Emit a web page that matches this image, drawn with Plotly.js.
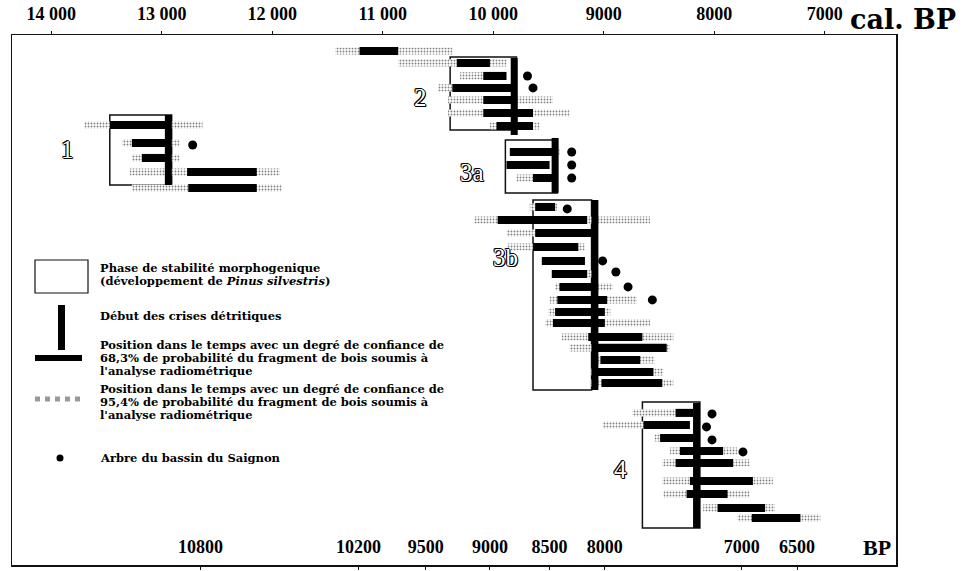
<!DOCTYPE html>
<html><head><meta charset="utf-8">
<script src="https://cdn.plot.ly/plotly-3.0.1.min.js"></script>
<style>body{margin:0;background:#fff}#c{width:970px;height:571px}</style>
</head><body><div id="c"></div>
<script>
// ---- axis labels ----
const calTicks = [14000, 13000, 12000, 11000, 10000, 9000, 8000, 7000];
const calTickText = ['14 000', '13 000', '12 000', '11 000', '10 000', '9000', '8000', '7000'];
const bpTickLabels = ['10800', '10200', '9500', '9000', '8500', '8000', '7000', '6500'];
const bpTickCalPos = [12650, 11220, 10610, 10030, 9490, 8990, 7750, 7250];

// ---- dated wood fragments (cal. BP), row position ----
const rowY = [7.23, 8.62, 9.77, 10.85, 12.08,
  1.54, 2.46, 3.46, 4.38, 5.31, 6.31, 7.31,
  9.31, 10.31, 11.31,
  13.54, 14.54, 15.54, 16.62, 17.69, 18.69, 19.69, 20.69, 21.62, 22.46, 23.54, 24.38, 25.31, 26.23, 27.08,
  29.38, 30.31, 31.31, 32.31, 33.23, 34.62, 35.62, 36.69, 37.46];
// 95.4 % interval
const sigma2From = [13700, 13360, 13270, 13290, 13270,
  11430, 10860, 10300, 10500, 10410, 10410, 10030,
  9850, 9880, 9790,
  9670, 10170, 9880, 9870, 9560, 9470, 9440, 9490, 9500, 9530, 9380, 9310, 9080, 9120, 9120,
  8740, 9010, 8540, 8400, 8470, 8470, 8460, 8100, 7790];
const sigma2To = [12630, 12840, 12840, 11930, 11910,
  10370, 9880, 9880, 9820, 9460, 9310, 9580,
  9400, 9490, 9440,
  9420, 8580, 9060, 9170, 9170, 9100, 8920, 8700, 8940, 8580, 8370, 8400, 8540, 8460, 8370,
  8190, 8220, 8190, 7790, 7680, 7470, 7680, 7450, 7040];
// 68.3 % interval
const sigma1From = [13470, 13270, 13180, 12770, 12760,
  11210, 10330, 10090, 10370, 10090, 10090, 9970,
  9850, 9880, 9640,
  9620, 9960, 9620, 9640, 9560, 9470, 9400, 9420, 9440, 9460, 9140, 9080, 9030, 9060, 9020,
  8350, 8640, 8490, 8310, 8350, 8220, 8250, 7970, 7660];
const sigma1To = [12930, 12950, 12950, 12140, 12140,
  10860, 10030, 9880, 9820, 9820, 9640, 9640,
  9440, 9490, 9440,
  9440, 9150, 9100, 9230, 9170, 9150, 9100, 8970, 8990, 8990, 8650, 8430, 8670, 8550, 8470,
  8190, 8220, 8190, 7920, 7830, 7650, 7880, 7540, 7220];

// ---- trees of the Saignon basin ----
const treeAge = [12720, 9690, 9640, 9290, 9290, 9290, 9330, 9010, 8890, 8780, 8560, 8020, 8070, 8020, 7740];
const treeRow = [8.77, 3.46, 4.38, 9.31, 10.31, 11.31, 13.69, 17.69, 18.54, 19.69, 20.69, 29.46, 30.46, 31.46, 32.38];

// ---- phases of morphogenic stability and onset of detrital crises ----
const phaseNames = ['1', '2', '3a', '3b', '4'];
const phaseStart = [13470, 10390, 9890, 9640, 8650];
const phaseEnd = [12910, 9790, 9420, 9110, 8130];
const phaseTop = [6.46, 2.0, 8.38, 13.0, 28.54];
const phaseBottom = [11.85, 7.62, 12.46, 27.62, 38.23];
const crisisAge = [12940, 9810, 9440, 9080, 8160];
const crisisTop = [6.46, 2.08, 8.23, 13.0, 28.62];
const crisisBottom = [11.85, 8.0, 12.46, 27.62, 38.23];
const phaseLabelAge = [13850, 10660, 10190, 9890, 8850];
const phaseLabelRow = [9.15, 5.15, 10.85, 17.4, 33.77];

// ---- build ----
const traces = [];
traces.push({
  type: 'bar', orientation: 'h',
  y: phaseTop.map((t, i) => (t + phaseBottom[i]) / 2),
  base: phaseStart,
  x: phaseEnd.map((e, i) => e - phaseStart[i]),
  width: phaseTop.map((t, i) => phaseBottom[i] - t),
  marker: {color: 'white', line: {color: '#111', width: 1.5}},
  hoverinfo: 'skip', showlegend: false
});
traces.push({
  type: 'bar', orientation: 'h', y: rowY, base: sigma2From,
  x: sigma2To.map((e, i) => e - sigma2From[i]), width: 0.55,
  marker: {color: 'white', line: {width: 0},
    pattern: {shape: '.', size: 3, solidity: 0.3, fgcolor: '#808080', bgcolor: 'white'}},
  hoverinfo: 'skip', showlegend: false
});
traces.push({
  type: 'bar', orientation: 'h', y: rowY, base: sigma1From,
  x: sigma1To.map((e, i) => e - sigma1From[i]), width: 0.62,
  marker: {color: '#000', line: {width: 0}},
  hoverinfo: 'skip', showlegend: false
});
const cx = [], cy = [];
crisisAge.forEach((a, i) => { cx.push(a, a, null); cy.push(crisisTop[i], crisisBottom[i], null); });
traces.push({type: 'scatter', mode: 'lines', x: cx, y: cy, line: {color: '#000', width: 7},
  hoverinfo: 'skip', showlegend: false});
traces.push({type: 'scatter', mode: 'markers', x: treeAge, y: treeRow,
  marker: {color: '#000', size: 9}, hoverinfo: 'skip', showlegend: false});
traces.push({type: 'scatter', mode: 'markers', x: [calTicks[0]], y: [null], xaxis: 'x2',
  hoverinfo: 'skip', showlegend: false});

const L = 12, T = 35, W = 884, H = 530;
const px = v => (v - L) / W, py = v => 1 - (v - T) / H;
const serif = 'Liberation Serif, Times New Roman, serif';
const lserif = 'DejaVu Serif, serif';

const annotations = [];
phaseNames.forEach((n, i) => annotations.push({
  x: phaseLabelAge[i], y: phaseLabelRow[i], xref: 'x', yref: 'y', text: n, showarrow: false,
  font: {family: serif, size: 25, color: 'white',
    shadow: '1px 0 0 #000, -1px 0 0 #000, 0 1px 0 #000, 0 -1px 0 #000, 1px 1px 0 #000, -1px -1px 0 #000'}
}));
const legTxt = [
  ['Phase de stabilité morphogenique', 268],
  ['(développement de <i>Pinus silvestris</i>)', 281],
  ['Début des crises détritiques', 316],
  ['Position dans le temps avec un degré de confiance de', 344.5],
  ['68,3% de probabilité du fragment de bois soumis à', 357.5],
  ["l'analyse radiométrique", 370.5],
  ['Position dans le temps avec un degré de confiance de', 389],
  ['95,4% de probabilité du fragment de bois soumis à', 402],
  ["l'analyse radiométrique", 415],
  ['Arbre du bassin du Saignon', 458]
];
legTxt.forEach(([t, y]) => annotations.push({
  xref: 'paper', yref: 'paper', x: px(98), y: py(y), xanchor: 'left', yanchor: 'middle',
  text: t, showarrow: false, font: {family: lserif, size: 11.5, weight: 'bold', color: '#000'}
}));
annotations.push({xref: 'paper', yref: 'paper', x: px(848), y: py(19), xanchor: 'left', yanchor: 'middle',
  text: 'cal. BP', showarrow: false, font: {family: lserif, size: 27, weight: 'bold', color: '#000'}});
annotations.push({xref: 'paper', yref: 'paper', x: px(893), y: py(547), xanchor: 'right', yanchor: 'middle',
  text: 'BP', showarrow: false, font: {family: serif, size: 22, weight: 'bold', color: '#000'}});

const shapes = [
  {type: 'rect', xref: 'paper', yref: 'paper', x0: px(35), x1: px(88), y0: py(293), y1: py(260),
    line: {color: '#111', width: 1.2}, fillcolor: 'white'},
  {type: 'rect', xref: 'paper', yref: 'paper', x0: px(58), x1: px(65), y0: py(350), y1: py(305),
    line: {width: 0}, fillcolor: '#000'},
  {type: 'rect', xref: 'paper', yref: 'paper', x0: px(35), x1: px(82), y0: py(361), y1: py(355),
    line: {width: 0}, fillcolor: '#000'},
  {type: 'line', xref: 'paper', yref: 'paper', x0: px(35), x1: px(80), y0: py(399), y1: py(399),
    line: {color: '#999', width: 5, dash: 'dot'}},
  {type: 'circle', xref: 'paper', yref: 'paper', x0: px(56.5), x1: px(63.5), y0: py(461.5), y1: py(454.5),
    line: {width: 0}, fillcolor: '#000'}
];

const xr = [14355, 6355];
const layout = {
  width: 970, height: 571,
  margin: {l: L, r: 970 - L - W, t: T, b: 571 - T - H, pad: 0},
  paper_bgcolor: 'white', plot_bgcolor: 'white',
  barmode: 'overlay', showlegend: false,
  xaxis: {range: xr, showgrid: false, zeroline: false, showline: true, linecolor: '#111', linewidth: 1.5,
    tickvals: bpTickCalPos, ticktext: bpTickLabels, ticks: 'outside', ticklen: 3, tickcolor: '#111',
    ticklabelposition: 'inside', ticklabelstandoff: 9,
    tickfont: {family: serif, size: 18, weight: 'bold', color: '#000'}},
  xaxis2: {range: xr, overlaying: 'x', side: 'top', anchor: 'y', showgrid: false, zeroline: false,
    showline: true, linecolor: '#111', linewidth: 1.5,
    tickvals: calTicks, ticktext: calTickText, ticks: 'outside', ticklen: 3, tickcolor: '#111',
    ticklabelstandoff: 3,
    tickfont: {family: serif, size: 18, weight: 'bold', color: '#000'}},
  yaxis: {range: [41.08, 0.31], showgrid: false, zeroline: false, showline: true, mirror: true,
    linecolor: '#111', linewidth: 1.5, ticks: '', showticklabels: false},
  shapes: shapes, annotations: annotations
};
Plotly.newPlot('c', traces, layout, {staticPlot: true});
</script></body></html>
